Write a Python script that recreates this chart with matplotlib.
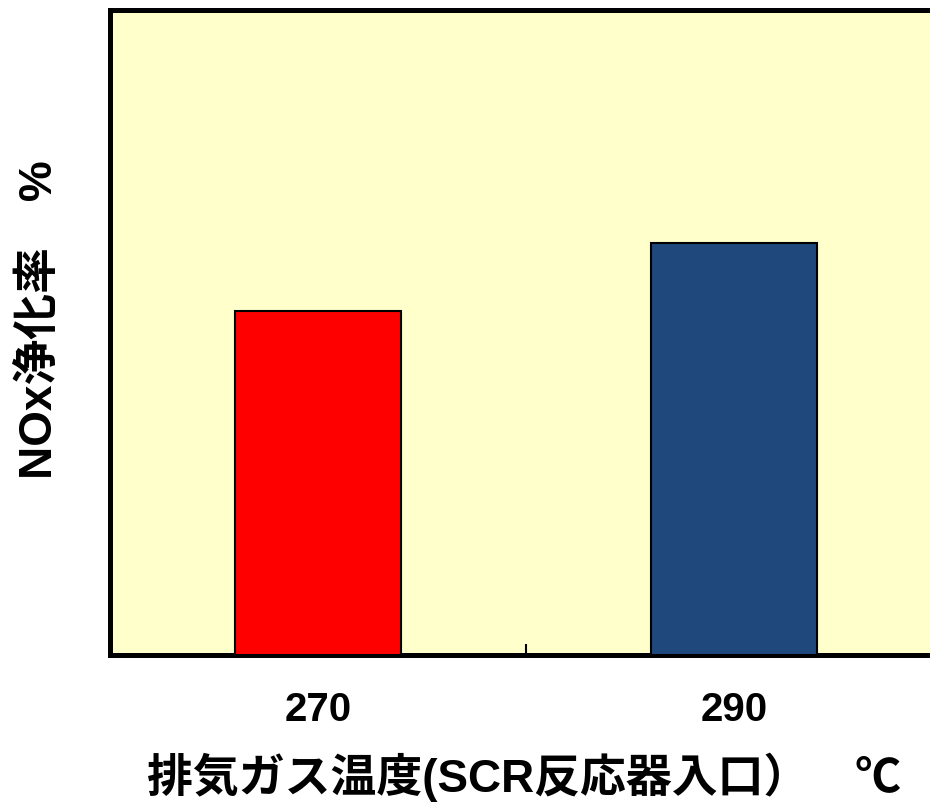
import numpy as np
import matplotlib
matplotlib.use("Agg")
from matplotlib import pyplot as plt
from matplotlib.ticker import FixedLocator

plt.rcParams['font.family'] = ['Liberation Sans', 'Noto Sans CJK JP', 'DejaVu Sans']

temps = ["270", "290"]
nox_rate = [53.3, 63.9]
bar_colors = ["#FF0000", "#1F497D"]


def main():
    fig = plt.figure(figsize=(9.3, 8.02), dpi=100)
    ax = fig.add_axes([0.118, 0.183, 0.895, 0.8045])
    ax.set_facecolor("#FFFFCC")

    x = np.arange(len(temps))
    ax.bar(x, nox_rate, width=0.4, color=bar_colors, edgecolor="black", linewidth=1.5, zorder=3)

    ax.set_xlim(-0.5, 1.5)
    ax.set_ylim(0, 100)
    ax.set_yticks([])
    ax.set_xticks(x)
    ax.set_xticklabels(temps, fontsize=29, fontweight="bold")
    ax.tick_params(axis="x", which="major", length=0, pad=26)
    # divider tick between the two categories
    ax.xaxis.set_minor_locator(FixedLocator([0.5]))
    ax.tick_params(axis="x", which="minor", direction="in", length=8, width=1.5)

    for side in ["left", "top", "bottom"]:
        ax.spines[side].set_linewidth(3.6)
    ax.spines["right"].set_visible(False)

    ax.set_ylabel("NOx浄化率　%", fontsize=33, fontweight="bold")
    ax.yaxis.set_label_coords(-0.056, 0.52)
    ax.set_xlabel("排気ガス温度(SCR反応器入口）　℃", fontsize=33, fontweight="bold")
    ax.xaxis.set_label_coords(0.498, -0.151)

    fig.savefig("out.png", dpi=100)


if __name__ == "__main__":
    main()
